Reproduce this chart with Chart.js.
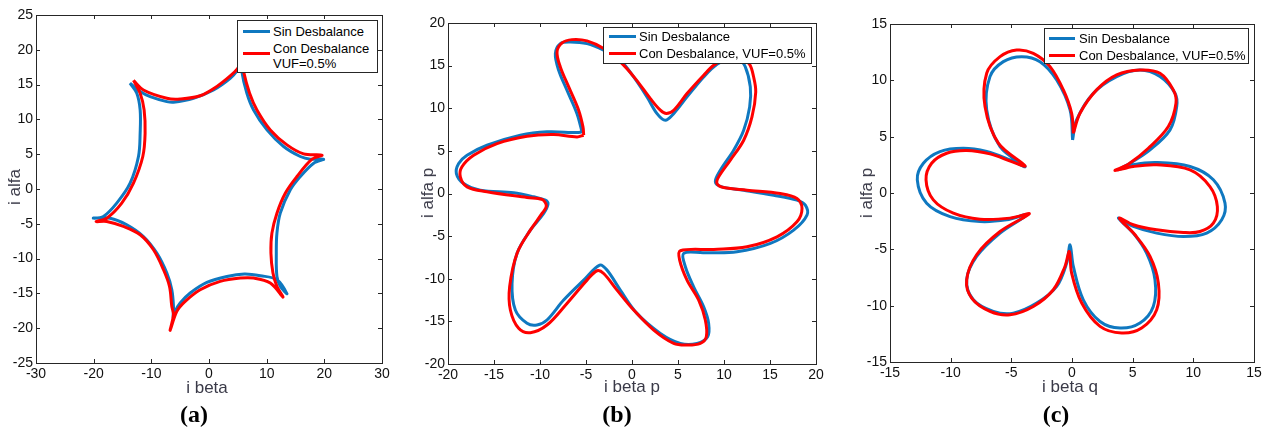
<!DOCTYPE html>
<html lang="es">
<head>
<meta charset="UTF-8">
<title>Corrientes alfa-beta</title>
<script src="https://cdn.jsdelivr.net/npm/chart.js"></script>
<style>
  body { margin: 0; width: 1272px; height: 427px; background: #fff; position: relative; overflow: hidden;
         font-family: "Liberation Sans", Arial, sans-serif; }
  canvas { position: absolute; top: 0; }
  .ttl { position: absolute; white-space: nowrap; color: #3a3a48; font-size: 17px; line-height: 20px; }
  .th { transform: translate(-50%, -50%); }
  .tv { transform: translate(-50%, -50%) rotate(-90deg); }
  .lab { position: absolute; font-family: "Liberation Serif", "Times New Roman", serif; font-weight: bold;
         font-size: 24px; line-height: 26px; transform: translate(-50%, -50%); }
  .leg { position: absolute; background: #fff; border: 1px solid #262626; box-sizing: border-box; }
  .ll { position: absolute; height: 3px; }
  .lt { position: absolute; font-size: 13px; line-height: 15px; white-space: nowrap; color: #000; }
</style>
</head>
<body>

<canvas id="chartA" width="400" height="427" style="left:0px"></canvas>
<canvas id="chartB" width="420" height="427" style="left:410px"></canvas>
<canvas id="chartC" width="422" height="427" style="left:850px"></canvas>

<!-- axis titles -->
<div class="ttl th" style="left:207px; top:388px">i beta</div>
<div class="ttl tv" style="left:15px; top:187px">i alfa</div>
<div class="ttl th" style="left:632px; top:387px">i beta p</div>
<div class="ttl tv" style="left:428px; top:193px">i alfa p</div>
<div class="ttl th" style="left:1070px; top:387px">i beta q</div>
<div class="ttl tv" style="left:867px; top:193px">i alfa p</div>

<!-- panel labels -->
<div class="lab" style="left:194px; top:414px">(a)</div>
<div class="lab" style="left:617px; top:414px">(b)</div>
<div class="lab" style="left:1056px; top:414px">(c)</div>

<!-- legends -->
<div class="leg" style="left:237px; top:20px; width:141px; height:53px"></div>
<div class="ll" style="left:243px; top:30px; width:27px; background:#0f78c0"></div>
<div class="ll" style="left:243px; top:52px; width:27px; background:#ff0000"></div>
<div class="lt" style="left:273px; top:24px">Sin Desbalance</div>
<div class="lt" style="left:273px; top:41px">Con Desbalance</div>
<div class="lt" style="left:273px; top:56px">VUF=0.5%</div>

<div class="leg" style="left:603px; top:27px; width:209px; height:37px"></div>
<div class="ll" style="left:609px; top:35px; width:27px; background:#0f78c0"></div>
<div class="ll" style="left:609px; top:52px; width:27px; background:#ff0000"></div>
<div class="lt" style="left:639px; top:29px">Sin Desbalance</div>
<div class="lt" style="left:639px; top:46px">Con Desbalance, VUF=0.5%</div>

<div class="leg" style="left:1044px; top:28px; width:205px; height:36px"></div>
<div class="ll" style="left:1049px; top:37px; width:26px; background:#0f78c0"></div>
<div class="ll" style="left:1049px; top:54px; width:26px; background:#ff0000"></div>
<div class="lt" style="left:1079px; top:31px">Sin Desbalance</div>
<div class="lt" style="left:1079px; top:48px">Con Desbalance, VUF=0.5%</div>

<script>
// ---- data: [i beta, i alfa] ----
const aSin = [[-13.7,15.2],[-11.94,14.0],[-10.2,13.28],[-7.31,12.56],[-6.16,12.46],[-2.69,13.04],[0.79,14.23],[3.68,15.9],[5.0,17.1],[5.8,18.3],[5.7,16.87],[6.57,13.76],[7.73,11.36],[10.05,8.49],[12.94,6.1],[15.83,4.67],[17.57,4.28],[19.88,4.28],[18.15,3.71],[15.83,1.79],[14.1,-0.12],[12.36,-3.47],[11.78,-6.34],[11.67,-9.21],[11.78,-12.56],[12.36,-13.99],[13.52,-15.05],[11.78,-13.04],[8.89,-12.46],[6.17,-12.22],[3.1,-12.56],[-0.37,-13.42],[-3.26,-14.95],[-5.0,-16.39],[-5.87,-17.58],[-6.2,-18.5],[-6.16,-16.87],[-6.45,-14.47],[-7.31,-12.08],[-9.05,-9.21],[-11.37,-6.82],[-14.26,-5.14],[-17.15,-4.19],[-20.05,-4.19],[-18.31,-3.95],[-16.0,-2.03],[-13.68,0.84],[-12.23,4.67],[-11.94,8.01],[-11.94,11.36],[-12.52,13.76],[-13.7,15.2]];
const aCon = [[-13.1,15.6],[-11.37,14.23],[-7.31,13.04],[-5.0,12.94],[-1.53,13.4],[1.37,14.74],[3.68,16.24],[4.95,17.3],[5.8,18.5],[6.0,16.87],[7.04,13.76],[8.31,11.36],[10.63,8.49],[13.52,6.34],[16.41,5.05],[19.6,4.86],[17.86,4.28],[15.25,1.79],[13.23,-0.6],[11.78,-3.47],[10.91,-6.34],[10.74,-9.21],[11.09,-12.08],[11.78,-13.99],[12.82,-15.53],[10.63,-13.52],[7.73,-12.8],[5.42,-12.8],[1.94,-13.28],[-1.53,-14.47],[-4.13,-16.15],[-5.58,-17.58],[-6.74,-20.31],[-6.16,-18.06],[-6.45,-16.87],[-6.85,-14.0],[-7.89,-11.6],[-9.63,-8.73],[-11.94,-6.58],[-14.84,-5.38],[-17.73,-4.67],[-19.58,-4.67],[-17.73,-4.19],[-15.13,-2.03],[-13.1,0.84],[-11.48,4.67],[-11.08,8.01],[-11.25,11.36],[-11.94,13.76],[-13.1,15.6]];

const bSin = [[-5.43,7.23],[-5.98,9.37],[-7.07,12.11],[-7.97,14.45],[-8.33,16.41],[-7.79,17.58],[-6.7,17.77],[-4.89,17.58],[-3.08,16.8],[-1.27,15.62],[0.18,13.67],[1.63,11.33],[2.72,9.37],[3.62,8.59],[4.53,9.37],[5.98,11.33],[7.79,13.67],[9.24,15.16],[10.5,15.7],[11.6,15.7],[12.3,14.9],[12.86,12.5],[12.79,10.16],[12.14,7.42],[11.05,5.08],[9.6,2.73],[9.06,1.37],[9.78,0.78],[12.14,0.39],[15.4,-0.2],[17.93,-0.78],[18.84,-1.37],[19.02,-2.54],[17.57,-4.3],[15.04,-5.86],[11.41,-6.84],[7.79,-6.95],[5.62,-7.03],[5.8,-8.59],[6.7,-10.94],[7.79,-13.28],[8.33,-15.23],[8.22,-16.8],[7.07,-17.58],[5.25,-17.58],[3.08,-16.41],[0.54,-14.06],[-1.27,-11.33],[-2.72,-8.98],[-3.51,-8.4],[-5.25,-10.16],[-7.43,-12.5],[-9.24,-14.84],[-10.33,-15.43],[-11.41,-15.23],[-12.68,-13.67],[-13.04,-10.55],[-12.5,-7.03],[-11.05,-4.3],[-9.6,-2.34],[-9.13,-1.25],[-9.42,-0.78],[-10.69,-0.39],[-12.86,0.08],[-16.49,0.39],[-18.3,1.17],[-19.09,2.34],[-18.84,3.52],[-17.93,4.49],[-15.76,5.66],[-12.14,6.84],[-9.24,7.23],[-5.98,7.15],[-5.43,7.23]];
const bCon = [[-5.25,6.84],[-5.33,7.81],[-5.8,9.77],[-6.88,12.5],[-7.79,14.84],[-8.15,16.6],[-7.6,17.66],[-6.52,18.05],[-4.89,17.9],[-3.08,17.0],[-1.27,15.43],[0.36,13.48],[2.0,11.13],[3.08,9.77],[3.73,9.38],[4.53,9.77],[5.98,11.72],[7.79,13.87],[8.88,15.04],[10.33,15.82],[11.96,15.62],[12.75,15.2],[13.22,13.67],[13.45,11.9],[13.04,8.98],[12.14,6.25],[10.69,3.91],[9.42,1.95],[9.24,1.17],[9.96,0.7],[12.5,0.39],[16.12,0.0],[17.93,-0.59],[18.48,-1.76],[17.93,-3.32],[15.76,-5.08],[12.5,-6.25],[8.88,-6.56],[5.25,-6.72],[5.18,-7.81],[5.98,-10.16],[7.25,-12.5],[7.97,-14.84],[8.08,-16.8],[7.43,-17.58],[5.98,-17.77],[4.53,-17.58],[2.36,-16.02],[0.18,-13.67],[-1.63,-11.33],[-3.08,-9.38],[-3.8,-9.06],[-4.89,-10.16],[-7.07,-12.89],[-9.24,-15.43],[-11.05,-16.33],[-12.32,-15.82],[-13.22,-13.67],[-13.3,-10.94],[-12.5,-7.03],[-11.05,-4.3],[-9.78,-2.34],[-9.31,-1.48],[-9.78,-0.7],[-11.41,-0.47],[-15.76,0.2],[-17.93,0.78],[-18.66,1.95],[-18.48,3.13],[-17.21,4.49],[-14.67,5.86],[-11.41,6.72],[-8.51,6.91],[-5.98,6.64],[-5.25,6.84]];

const cSin = [[0.05,4.71],[0.38,6.49],[1.76,8.85],[3.68,10.33],[5.6,10.92],[7.25,10.33],[8.49,8.85],[8.63,7.67],[8.08,5.6],[6.43,3.83],[4.78,2.64],[3.82,2.05],[5.05,2.5],[6.98,2.7],[9.73,2.35],[11.65,1.17],[12.61,-0.9],[12.34,-2.38],[11.1,-3.56],[9.18,-3.86],[6.98,-3.56],[5.05,-2.97],[3.82,-2.23],[5.05,-3.56],[6.15,-5.34],[6.84,-7.7],[6.7,-10.07],[5.6,-11.54],[3.96,-11.99],[2.31,-11.4],[0.93,-9.48],[0.11,-6.52],[-0.16,-4.6],[-0.44,-6.22],[-1.26,-8.29],[-2.91,-9.77],[-4.84,-10.66],[-6.48,-10.51],[-8.13,-9.48],[-8.68,-7.7],[-7.86,-5.63],[-5.93,-3.56],[-3.74,-1.94],[-5.38,-2.38],[-7.58,-2.53],[-10.05,-2.09],[-11.98,-0.9],[-12.75,1.17],[-12.25,2.64],[-10.88,3.68],[-8.96,3.97],[-7.03,3.68],[-5.11,2.94],[-3.87,2.35],[-5.93,4.12],[-7.03,7.37],[-6.76,10.33],[-5.66,11.66],[-4.15,12.1],[-2.64,11.66],[-1.26,10.03],[-0.16,7.37],[0.05,4.71]];
const cCon = [[0.11,5.3],[0.66,7.08],[2.03,9.15],[3.68,10.48],[5.6,10.92],[7.25,10.63],[8.35,9.15],[8.57,7.96],[7.94,5.9],[6.29,3.97],[4.7,2.6],[3.54,1.99],[5.05,2.35],[6.98,2.5],[9.73,2.05],[11.37,0.57],[11.98,-1.2],[11.65,-2.68],[10.55,-3.42],[9.18,-3.5],[6.98,-3.27],[5.05,-2.82],[3.9,-2.23],[5.19,-3.71],[6.43,-5.63],[7.12,-8.0],[6.98,-10.36],[5.74,-11.99],[4.09,-12.43],[2.31,-11.84],[0.8,-9.77],[-0.03,-7.11],[-0.22,-5.19],[-0.58,-6.52],[-1.54,-8.59],[-3.19,-10.07],[-5.11,-10.81],[-6.76,-10.51],[-8.27,-9.33],[-8.68,-7.7],[-7.86,-5.48],[-5.93,-3.42],[-3.52,-1.85],[-5.11,-2.23],[-7.58,-2.32],[-9.78,-1.79],[-11.43,-0.61],[-12.03,1.17],[-11.57,2.64],[-10.33,3.53],[-8.68,3.77],[-6.76,3.47],[-4.97,2.79],[-3.87,2.41],[-6.07,4.42],[-7.17,7.67],[-7.03,10.63],[-5.93,12.1],[-4.56,12.69],[-3.19,12.4],[-1.81,11.22],[-0.71,9.15],[-0.03,7.08],[0.11,5.3]];

// tick labels
const aXTicks = [-30, -20, -10, 0, 10, 20, 30];
const aYTicks = [-25, -20, -15, -10, -5, 0, 5, 10, 15, 20, 25];
const bXTicks = [-20, -15, -10, -5, 0, 5, 10, 15, 20];
const bYTicks = [-20, -15, -10, -5, 0, 5, 10, 15, 20];
const cXTicks = [-15, -10, -5, 0, 5, 10, 15];
const cYTicks = [-15, -10, -5, 0, 5, 10, 15];

const BLUE = '#0f78c0';
const RED = '#ff0000';

// matlab style box with inward ticks on all four sides
const boxPlugin = {
    id: 'matBox',
    afterDatasetsDraw(chart) {
        const { ctx, chartArea: a, scales: { x, y } } = chart;
        const L = 4;
        ctx.save();
        ctx.strokeStyle = '#262626';
        ctx.lineWidth = 1;
        ctx.strokeRect(Math.round(a.left) + 0.5, Math.round(a.top) + 0.5,
                       Math.round(a.right - a.left), Math.round(a.bottom - a.top));
        ctx.beginPath();
        x.ticks.forEach(t => {
            const px = Math.round(x.getPixelForValue(t.value)) + 0.5;
            ctx.moveTo(px, a.bottom); ctx.lineTo(px, a.bottom - L);
            ctx.moveTo(px, a.top); ctx.lineTo(px, a.top + L);
        });
        y.ticks.forEach(t => {
            const py = Math.round(y.getPixelForValue(t.value)) + 0.5;
            ctx.moveTo(a.left, py); ctx.lineTo(a.left + L, py);
            ctx.moveTo(a.right, py); ctx.lineTo(a.right - L, py);
        });
        ctx.stroke();
        ctx.restore();
    }
};

function toXY(arr) {
    return arr.map(p => ({ x: p[0], y: p[1] }));
}

function axis(min, max, ticks, fitFn) {
    return {
        type: 'linear',
        min: min,
        max: max,
        grid: { display: false, drawTicks: false },
        border: { display: false },
        afterBuildTicks: s => { s.ticks = ticks.map(v => ({ value: v })); },
        afterFit: fitFn,
        ticks: {
            padding: 3,
            color: '#111',
            font: { family: '"Liberation Sans", Arial, sans-serif', size: 14 }
        }
    };
}

function makePanel(id, sin, con, xr, yr, xt, yt, box) {
    new Chart(document.getElementById(id), {
        type: 'scatter',
        data: {
            datasets: [
                { label: 'Con Desbalance', data: toXY(con), showLine: true, borderColor: RED,
                  borderWidth: 3, pointRadius: 0, tension: 0.35, fill: false, order: 0 },
                { label: 'Sin Desbalance', data: toXY(sin), showLine: true, borderColor: BLUE,
                  borderWidth: 3, pointRadius: 0, tension: 0.35, fill: false, order: 1 }
            ]
        },
        options: {
            responsive: false,
            animation: false,
            events: [],
            layout: { padding: { top: box.top, right: box.right, left: 0, bottom: 0 } },
            plugins: { legend: { display: false }, tooltip: { enabled: false } },
            scales: {
                x: axis(xr[0], xr[1], xt, s => { s.height = box.xh; }),
                y: axis(yr[0], yr[1], yt, s => { s.width = box.yw; })
            }
        },
        plugins: [boxPlugin]
    });
}

makePanel('chartA', aSin, aCon, [-30, 30], [-25, 25], aXTicks, aYTicks, { top: 15, right: 18, xh: 64, yw: 36 });
makePanel('chartB', bSin, bCon, [-20, 20], [-20, 20], bXTicks, bYTicks, { top: 23, right: 14, xh: 63, yw: 38 });
makePanel('chartC', cSin, cCon, [-15, 15], [-15, 15], cXTicks, cYTicks, { top: 24, right: 18, xh: 65, yw: 40 });
</script>
</body>
</html>
